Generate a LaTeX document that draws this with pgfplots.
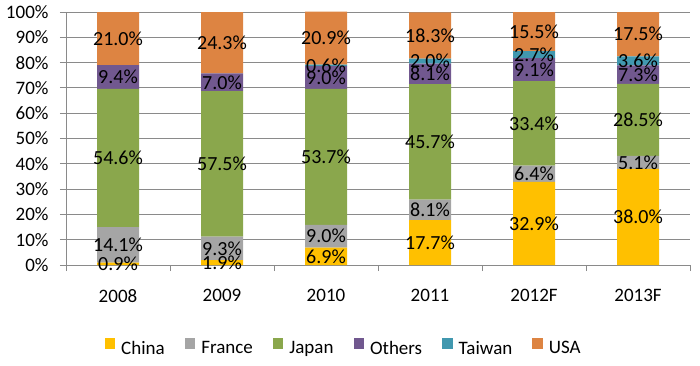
\documentclass[border=0pt]{standalone}
\usepackage{pgfplots}
\pgfplotsset{compat=1.18}
\usepackage{pgfplotstable}
\usepackage{fontspec}
\setmainfont{Carlito}
\definecolor{cChina}{HTML}{FFC000}
\definecolor{cFrance}{HTML}{A5A5A5}
\definecolor{cJapan}{HTML}{8AA74C}
\definecolor{cOthers}{HTML}{71588F}
\definecolor{cTaiwan}{HTML}{4198AF}
\definecolor{cUSA}{HTML}{DD8442}
\definecolor{gridc}{HTML}{8A8A8A}
\pgfkeys{/pgf/number format/assume math mode=true}
\pgfplotstableread{
x China France Japan Others Taiwan USA
0 0.9 14.1 54.6 9.4 0 21.0
1 1.9 9.3 57.5 7.0 0 24.3
2 6.9 9.0 53.7 9.0 0.6 20.9
3 17.7 8.1 45.7 8.1 2.0 18.3
4 32.9 6.4 33.4 9.1 2.7 15.5
5 38.0 5.1 28.5 7.3 3.6 17.5
}\data
\pgfplotsset{
  sqleg/.style={legend image code/.code={\fill[##1] (0pt,0pt) rectangle (10.5pt,10.5pt);}},
  common/.style={
    at={(0,0)}, anchor=south west,
    scale only axis, width=624pt, height=253pt,
    ymin=0, ymax=100, xmin=-0.5, xmax=5.5, clip=false,
    /pgf/number format/assume math mode=true,
  },
  lab/.style={draw=none, mark=none, point meta=explicit,
    nodes near coords={\pgfmathprintnumber[fixed,fixed zerofill,precision=1,assume math mode=true]{\pgfplotspointmeta}\%},
    nodes near coords align=center,
    every node near coord/.append style={font=\fontsize{20}{22}\selectfont, text=black, inner sep=0pt, anchor=center}},
}
\begin{document}
\begin{tikzpicture}
\useasboundingbox (-66pt,-100pt) rectangle (634pt,265pt);
\begin{axis}[common,
  ybar stacked, bar width=42pt,
  axis x line*=bottom, axis y line*=left,
  axis line style={-, draw=gridc, line width=1pt},
  ytick={0,10,...,100},
  yticklabel={\pgfmathprintnumber[assume math mode=true]{\tick}\%},
  yticklabel style={xshift=-8pt},
  ymajorgrids, grid style={draw=gridc, line width=1pt},
  tick align=outside, major tick length=6pt,
  tick style={draw=gridc, line width=1pt},
  xtick={-0.5,0.5,1.5,2.5,3.5,4.5,5.5}, xticklabels={},
  extra x ticks={0,1,2,3,4,5},
  extra x tick labels={2008,2009,2010,2011,2012F,2013F},
  extra x tick style={major tick length=0pt, xticklabel style={yshift=-21pt}},
  tick label style={font=\fontsize{19}{22}\selectfont, text=black},
  legend style={at={(0.445,-0.328)}, anchor=center, draw=none, fill=none,
    legend columns=-1, font=\fontsize{19}{22}\selectfont,
    /tikz/every even column/.append style={column sep=18pt},
    /tikz/every odd column/.append style={column sep=4pt},
    cells={anchor=west}},
]
\addplot[fill=cChina, draw=none, sqleg] table[x=x, y=China] {\data};
\addplot[fill=cFrance, draw=none, sqleg] table[x=x, y=France] {\data};
\addplot[fill=cJapan, draw=none, sqleg] table[x=x, y=Japan] {\data};
\addplot[fill=cOthers, draw=none, sqleg] table[x=x, y=Others] {\data};
\addplot[fill=cTaiwan, draw=none, sqleg] table[x=x, y=Taiwan] {\data};
\addplot[fill=cUSA, draw=none, sqleg] table[x=x, y=USA] {\data};
\legend{China,France,Japan,Others,Taiwan,USA}
\end{axis}
\begin{axis}[common, hide axis]
\addplot[lab] table[x=x, y expr=\thisrow{China}/2, meta=China] {\data};
\addplot[lab] table[x=x, y expr=\thisrow{China}+\thisrow{France}/2, meta=France] {\data};
\addplot[lab] table[x=x, y expr=\thisrow{China}+\thisrow{France}+\thisrow{Japan}/2, meta=Japan] {\data};
\addplot[lab] table[x=x, y expr=\thisrow{China}+\thisrow{France}+\thisrow{Japan}+\thisrow{Others}/2, meta=Others] {\data};
\addplot[lab, restrict expr to domain={\thisrow{Taiwan}}{0.05:100}] table[x=x, y expr=\thisrow{China}+\thisrow{France}+\thisrow{Japan}+\thisrow{Others}+\thisrow{Taiwan}/2, meta=Taiwan] {\data};
\addplot[lab] table[x=x, y expr=\thisrow{China}+\thisrow{France}+\thisrow{Japan}+\thisrow{Others}+\thisrow{Taiwan}+\thisrow{USA}/2, meta=USA] {\data};
\end{axis}
\end{tikzpicture}
\end{document}
